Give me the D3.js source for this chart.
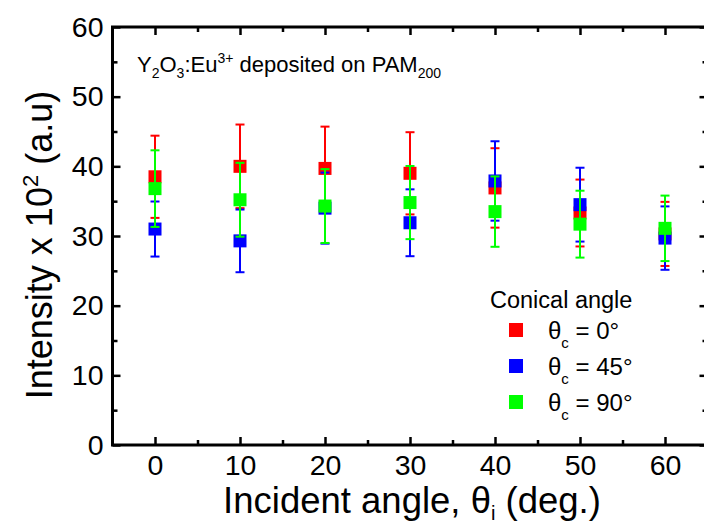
<!DOCTYPE html>
<html>
<head>
<meta charset="utf-8">
<script src="https://cdn.jsdelivr.net/npm/d3@7"></script>
<style>
  html, body { margin: 0; padding: 0; background: #fff; }
  svg { display: block; font-family: "Liberation Sans", Arial, sans-serif; }
</style>
</head>
<body>
<svg id="chart" width="704" height="525"></svg>
<script>
// ---- data ----
const incidentAngles = [0, 10, 20, 30, 40, 50, 60];
const seriesNames = ["0°", "45°", "90°"];
const seriesColors = ["#ff0000", "#0000ff", "#00ff00"];
const values0 = [38.5, 40.0, 39.7, 39.0, 36.9, 33.3, 30.3];
const errors0 = [5.9, 6.0, 6.0, 5.9, 5.7, 4.8, 4.6];
const values45 = [31.0, 29.3, 34.0, 31.9, 37.9, 34.5, 29.7];
const errors45 = [3.95, 4.5, 5.1, 4.8, 5.7, 5.3, 4.55];
const values90 = [36.8, 35.2, 34.3, 34.8, 33.5, 31.7, 31.1];
const errors90 = [5.5, 5.3, 5.3, 5.25, 5.05, 4.8, 4.7];
const xTicks = [0, 10, 20, 30, 40, 50, 60];
const xMinorTicks = [5, 15, 25, 35, 45, 55];
const yTicks = [0, 10, 20, 30, 40, 50, 60];
const yMinorTicks = [5, 15, 25, 35, 45, 55];

const seriesValues = [values0, values45, values90];
const seriesErrors = [errors0, errors45, errors90];

(function () {
// ---- layout ----
const svg = d3.select("#chart");
const pLeft = 112.5, pRight = 707.5, pTop = 27, pBottom = 445;
const x = d3.scaleLinear().domain([-5, 65]).range([pLeft, pRight]);
const y = d3.scaleLinear().domain([0, 60]).range([pBottom, pTop]);

const axisStroke = 3;

function styleAxis(g) {
  g.select(".domain").remove();
  g.selectAll(".tick line").attr("stroke", "#000").attr("stroke-width", 2.5);
  g.selectAll(".tick text").attr("fill", "#000").attr("font-size", 28.5)
    .attr("font-family", '"Liberation Sans", Arial, sans-serif');
}

// bottom axis
svg.append("g").attr("transform", `translate(0,${pBottom})`)
  .call(d3.axisBottom(x).tickValues(xTicks).tickSize(-8).tickPadding(10).tickFormat(d3.format("d")))
  .call(styleAxis);
svg.append("g").attr("transform", `translate(0,${pBottom})`)
  .call(d3.axisBottom(x).tickValues(xMinorTicks).tickSize(-5).tickFormat(""))
  .call(styleAxis);
// top axis
svg.append("g").attr("transform", `translate(0,${pTop})`)
  .call(d3.axisTop(x).tickValues(xTicks).tickSize(-8).tickFormat(""))
  .call(styleAxis);
svg.append("g").attr("transform", `translate(0,${pTop})`)
  .call(d3.axisTop(x).tickValues(xMinorTicks).tickSize(-5).tickFormat(""))
  .call(styleAxis);
// left axis
svg.append("g").attr("transform", `translate(${pLeft},0)`)
  .call(d3.axisLeft(y).tickValues(yTicks).tickSize(-8).tickPadding(9).tickFormat(d3.format("d")))
  .call(styleAxis);
svg.append("g").attr("transform", `translate(${pLeft},0)`)
  .call(d3.axisLeft(y).tickValues(yMinorTicks).tickSize(-5).tickFormat(""))
  .call(styleAxis);
// right axis
svg.append("g").attr("transform", `translate(${pRight},0)`)
  .call(d3.axisRight(y).tickValues(yTicks).tickSize(-8).tickFormat(""))
  .call(styleAxis);
svg.append("g").attr("transform", `translate(${pRight},0)`)
  .call(d3.axisRight(y).tickValues(yMinorTicks).tickSize(-5).tickFormat(""))
  .call(styleAxis);

// frame
svg.append("rect").attr("x", pLeft).attr("y", pTop)
  .attr("width", pRight - pLeft).attr("height", pBottom - pTop)
  .attr("fill", "none").attr("stroke", "#000").attr("stroke-width", axisStroke);

// ---- data marks ----
const sq = 13, cap = 9;
seriesValues.forEach((vals, si) => {
  const color = seriesColors[si];
  const g = svg.append("g");
  const pts = incidentAngles.map((a, i) => ({ a, v: vals[i], e: seriesErrors[si][i] }));
  const eg = g.selectAll("g.err").data(pts).join("g").attr("class", "err")
    .attr("stroke", color).attr("stroke-width", 2);
  eg.append("line")
    .attr("x1", d => x(d.a)).attr("x2", d => x(d.a))
    .attr("y1", d => y(d.v + d.e)).attr("y2", d => y(d.v - d.e));
  eg.append("line")
    .attr("x1", d => x(d.a) - cap / 2).attr("x2", d => x(d.a) + cap / 2)
    .attr("y1", d => y(d.v + d.e)).attr("y2", d => y(d.v + d.e));
  eg.append("line")
    .attr("x1", d => x(d.a) - cap / 2).attr("x2", d => x(d.a) + cap / 2)
    .attr("y1", d => y(d.v - d.e)).attr("y2", d => y(d.v - d.e));
  g.selectAll("rect").data(pts).join("rect")
    .attr("x", d => x(d.a) - sq / 2).attr("y", d => y(d.v) - sq / 2)
    .attr("width", sq).attr("height", sq).attr("fill", color);
});

// ---- annotation ----
const ann = svg.append("text").attr("x", 137).attr("y", 72)
  .attr("font-size", 22).attr("fill", "#000");
ann.append("tspan").text("Y");
ann.append("tspan").attr("font-size", 14).attr("dy", 6).text("2");
ann.append("tspan").attr("dy", -6).text("O");
ann.append("tspan").attr("font-size", 14).attr("dy", 6).text("3");
ann.append("tspan").attr("dy", -6).text(":Eu");
ann.append("tspan").attr("font-size", 14).attr("dy", -9).text("3+");
ann.append("tspan").attr("dy", 9).text(" deposited on PAM");
ann.append("tspan").attr("font-size", 14).attr("dy", 6).text("200");

// ---- legend ----
svg.append("text").attr("x", 490).attr("y", 308).attr("font-size", 23.5).attr("fill", "#000")
  .text("Conical angle");
seriesNames.forEach((name, i) => {
  const cy = 330 + i * 36;
  svg.append("rect").attr("x", 509).attr("y", cy - 7).attr("width", 14).attr("height", 14)
    .attr("fill", seriesColors[i]);
  const t = svg.append("text").attr("x", 548).attr("y", cy + 9).attr("font-size", 24).attr("fill", "#000");
  t.append("tspan").text("θ");
  t.append("tspan").attr("font-size", 15).attr("dy", 9).text("c");
  t.append("tspan").attr("dy", -9).text(" = " + name);
});

// ---- axis titles ----
const xt = svg.append("text").attr("x", 412).attr("y", 513).attr("text-anchor", "middle")
  .attr("font-size", 36.5).attr("fill", "#000");
xt.append("tspan").text("Incident angle, θ");
xt.append("tspan").attr("font-size", 20).attr("dy", 7).text("i");
xt.append("tspan").attr("dy", -7).text(" (deg.)");

const yt = svg.append("text").attr("transform", "translate(52,245) rotate(-90)")
  .attr("text-anchor", "middle").attr("font-size", 36).attr("fill", "#000");
yt.append("tspan").text("Intensity x 10");
yt.append("tspan").attr("font-size", 22).attr("dy", -14).text("2");
yt.append("tspan").attr("dy", 14).text(" (a.u)");
})();
</script>
</body>
</html>
